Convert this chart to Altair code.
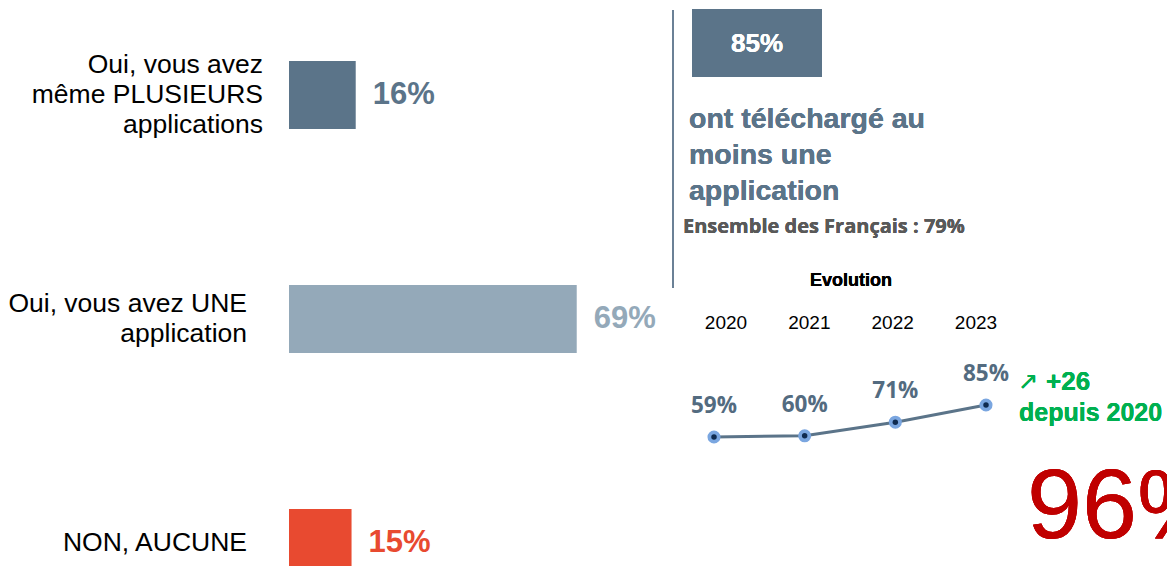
import altair as alt
import pandas as pd

# ---- data ----
categories = ["PLUSIEURS", "UNE", "AUCUNE"]
cat_labels = ["Oui, vous avez\nmême PLUSIEURS\napplications",
              "Oui, vous avez UNE\napplication",
              "NON, AUCUNE"]
values = [16, 69, 15]
value_text = ["16%", "69%", "15%"]
bar_colors = ["#5b7489", "#94a9b9", "#e84a30"]

years = ["2020", "2021", "2022", "2023"]
evo_values = [59, 60, 71, 85]
evo_text = ["59%", "60%", "71%", "85%"]

bars_df = pd.DataFrame({"cat": categories, "label": cat_labels,
                        "value": values, "vtext": value_text})
evo_df = pd.DataFrame({"year": years, "value": evo_values, "vtext": evo_text})

SLATE = "#5b7489"

y_cat = alt.Y("cat:N", scale=alt.Scale(type="point", domain=categories,
                                        range=[87, 535], padding=0), axis=None)
x_scale = alt.Scale(domain=[0, 100], range=[281, 698])
x_val = alt.X("value:Q", scale=x_scale, axis=None)
color_cat = alt.Color("cat:N", scale=alt.Scale(domain=categories, range=bar_colors), legend=None)

base_bars = alt.Chart(bars_df)

bars = base_bars.mark_bar(height=68).encode(
    x=alt.X("zero:Q", scale=x_scale, axis=None),
    x2="value:Q", y=y_cat, color=color_cat
).transform_calculate(zero="0")

vlabels = base_bars.mark_text(align="left", baseline="middle", dx=17, fontSize=31,
                              fontWeight="bold", font="Liberation Sans").encode(
    x=x_val, y=y_cat, text="vtext:N", color=color_cat)

lab1 = base_bars.transform_filter(alt.datum.cat == "PLUSIEURS").mark_text(
    align="right", baseline="middle", fontSize=26.5, lineBreak="\n", lineHeight=30,
    dy=-30, font="Liberation Sans", color="#000000").encode(
    x=alt.value(255), y=y_cat, text="label:N")
lab2 = base_bars.transform_filter(alt.datum.cat == "UNE").mark_text(
    align="right", baseline="middle", fontSize=26.5, lineBreak="\n", lineHeight=30,
    dy=-15, font="Liberation Sans", color="#000000").encode(
    x=alt.value(239), y=y_cat, text="label:N")
lab3 = base_bars.transform_filter(alt.datum.cat == "AUCUNE").mark_text(
    align="right", baseline="middle", fontSize=26.5,
    font="Liberation Sans", color="#000000").encode(
    x=alt.value(239), y=y_cat, text="label:N")

# ---- right panel ----
vline = alt.Chart(bars_df).mark_rule(color="#6b8196", strokeWidth=2).encode(
    x=alt.value(665), y=alt.value(2), y2=alt.value(280))

box = alt.Chart(bars_df).mark_rect(color=SLATE).encode(
    x=alt.value(684), x2=alt.value(814), y=alt.value(1), y2=alt.value(69))
box_text = alt.Chart(bars_df).mark_text(text="85%", color="white", fontSize=26,
                                        fontWeight="bold", font="Liberation Sans",
                                        align="center", baseline="middle").encode(
    x=alt.value(749), y=alt.value(36))

headline = alt.Chart(bars_df).mark_text(
    text="ont téléchargé au\nmoins une\napplication", lineBreak="\n", lineHeight=36,
    color=SLATE, fontSize=28.5, fontWeight="bold", font="Liberation Sans",
    align="left", baseline="middle").encode(x=alt.value(681), y=alt.value(111))

ensemble = alt.Chart(bars_df).mark_text(
    text="Ensemble des Français : 79%", color="#595959", fontSize=20,
    fontWeight="bold", font="Open Sans", align="left", baseline="middle").encode(
    x=alt.value(675), y=alt.value(219))

evolution = alt.Chart(bars_df).mark_text(
    text="Evolution", color="#000000", fontSize=18, fontWeight="bold",
    font="Liberation Sans", align="center", baseline="middle").encode(
    x=alt.value(843), y=alt.value(273))

year_labels = alt.Chart(evo_df).mark_text(
    fontSize=19, font="Liberation Sans", color="#000000", baseline="middle").encode(
    x=alt.X("year:N", scale=alt.Scale(type="point", domain=years, range=[718, 968], padding=0), axis=None),
    y=alt.value(315), text="year:N")

x_year = alt.X("year:N", scale=alt.Scale(type="point", domain=years, range=[706, 978], padding=0), axis=None)
y_evo = alt.Y("value:Q", scale=alt.Scale(domain=[59, 85], range=[429, 397], zero=False), axis=None)

evo_line = alt.Chart(evo_df).mark_line(color=SLATE, strokeWidth=3).encode(x=x_year, y=y_evo)
evo_outer = alt.Chart(evo_df).mark_circle(color="#7aa6e0", opacity=1, size=170).encode(x=x_year, y=y_evo)
evo_inner = alt.Chart(evo_df).mark_circle(color="#0f2b50", opacity=1, size=30).encode(x=x_year, y=y_evo)
evo_labels = alt.Chart(evo_df).mark_text(dy=-31, fontSize=22.5, fontWeight="bold", font="Open Sans",
                                         color="#536b80", baseline="middle").encode(
    x=x_year, y=y_evo, text="vtext:N")

arrow = alt.Chart(bars_df).mark_text(
    text="↗", color="#00b050", fontSize=24, font="DejaVu Sans", fontWeight="normal",
    align="left", baseline="middle").encode(x=alt.value(1010), y=alt.value(374))
plus = alt.Chart(bars_df).mark_text(
    text="+26", color="#00b050", fontSize=26, fontWeight="bold",
    font="Liberation Sans", align="left", baseline="middle").encode(
    x=alt.value(1038), y=alt.value(374))
depuis = alt.Chart(bars_df).mark_text(
    text="depuis 2020", color="#00b050", fontSize=25, fontWeight="bold",
    font="Liberation Sans", align="left", baseline="middle").encode(
    x=alt.value(1011), y=alt.value(405))

big = alt.Chart(bars_df).mark_text(
    text="96%", color="#c00000", fontSize=99, font="Liberation Sans",
    align="left", baseline="alphabetic").encode(x=alt.value(1019), y=alt.value(530))

chart = alt.layer(
    bars, vlabels, lab1, lab2, lab3, vline, box, box_text, headline, ensemble, evolution,
    year_labels, evo_line, evo_outer, evo_inner, evo_labels, arrow, plus, depuis, big
).resolve_scale(x="independent", y="independent", color="independent").properties(
    width=1159, height=558, padding=0,
    autosize=alt.AutoSizeParams(type="none")
).configure(background="white", view=alt.ViewConfig(stroke=None))

chart.save("out.html", embed_options={"renderer": "svg", "actions": False})
